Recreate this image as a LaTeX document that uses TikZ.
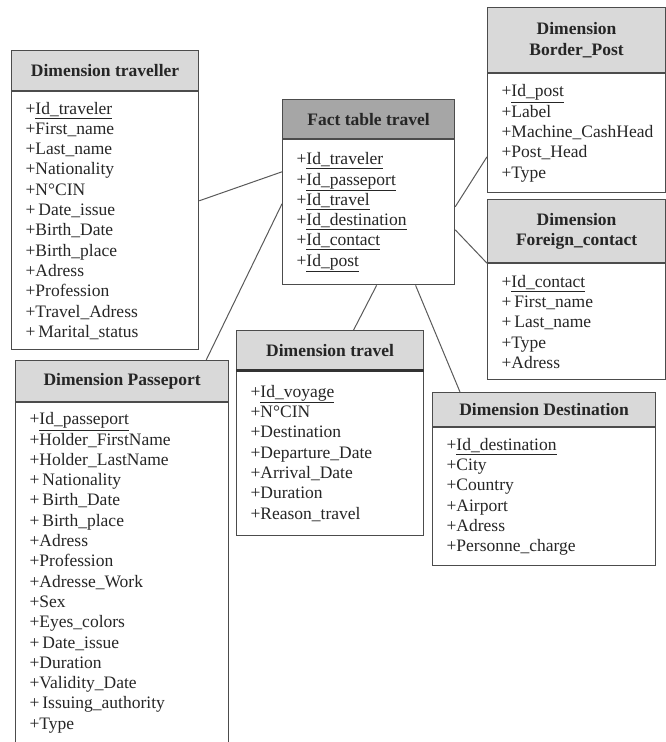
\documentclass[tikz,border=0pt]{standalone}
\usepackage{fontspec}
\setmainfont{Liberation Serif}[BoldFont={Liberation Serif Bold}]
\usepackage{tikz}
\usetikzlibrary{positioning}

\begin{document}
\begin{tikzpicture}[x=1pt,y=-1pt,
        hd/.style={draw=black!70, line width=1.2pt, fill=black!15, text=black!85, anchor=north west,
                inner sep=0pt, align=center, font=\fontsize{17.5}{20.3}\selectfont\bfseries},
        bd/.style={draw=black!70, line width=1.2pt, fill=white, text=black!85, inner xsep=14pt,
                inner ysep=3pt, align=left, font=\fontsize{17.5}{20.3}\selectfont},
        ln/.style={draw=black!65, line width=1pt}]
        \useasboundingbox (0,0) rectangle (666,742);
        \node(1)[hd, fill=black!35, minimum width=172pt, minimum height=39pt] at (282,99) {Fact table travel};
        \node(2)[bd, below=0pt of 1, text width=144pt, minimum height=145pt] {+\underline{Id\_traveler}\\+\underline{Id\_passeport}\\+\underline{Id\_travel}\\+\underline{Id\_destination}\\+\underline{Id\_contact}\\+\underline{Id\_post}};
        \node(3)[hd, minimum width=187pt, minimum height=40pt] at (11,50) {Dimension traveller};
        \node(4)[bd, below=0pt of 3, text width=159pt, minimum height=258pt] {+\underline{Id\_traveler}\\+First\_name\\+Last\_name\\+Nationality\\+N°CIN\\+\,Date\_issue\\+Birth\_Date\\+Birth\_place\\+Adress\\+Profession\\+Travel\_Adress\\+\,Marital\_status};
        \node(5)[hd, minimum width=178pt, minimum height=65pt] at (487,7) {Dimension\\Border\_Post};
        \node(6)[bd, below=0pt of 5, text width=150pt, minimum height=119pt] {+\underline{Id\_post}\\+Label\\+Machine\_CashHead\\+Post\_Head\\+Type};
        \node(7)[hd, minimum width=178pt, minimum height=63pt] at (487,199) {Dimension\\Foreign\_contact};
        \node(8)[bd, below=0pt of 7, text width=150pt, minimum height=116pt] {+\underline{Id\_contact}\\+\,First\_name\\+\,Last\_name\\+Type\\+Adress};
        \node(9)[hd, minimum width=213pt, minimum height=41pt] at (15,360) {Dimension Passeport};
        \node(10)[bd, below=0pt of 9, text width=185pt, minimum height=340pt] {+\underline{Id\_passeport}\\+Holder\_FirstName\\+Holder\_LastName\\+\,Nationality\\+\,Birth\_Date\\+\,Birth\_place\\+Adress\\+Profession\\+Adresse\_Work\\+Sex\\+Eyes\_colors\\+\,Date\_issue\\+Duration\\+Validity\_Date\\+\,Issuing\_authority\\+Type};
        \node(11)[hd, minimum width=187pt, minimum height=39pt] at (236,330) {Dimension travel};
        \node(12)[bd, below=0pt of 11, text width=159pt, minimum height=165pt] {+\underline{Id\_voyage}\\+N°CIN\\+Destination\\+Departure\_Date\\+Arrival\_Date\\+Duration\\+Reason\_travel};
        \node(13)[hd, minimum width=223pt, minimum height=34pt] at (432,392) {Dimension Destination};
        \node(14)[bd, below=0pt of 13, text width=195pt, minimum height=138pt] {+\underline{Id\_destination}\\+City\\+Country\\+Airport\\+Adress\\+Personne\_charge};

        \draw[black!80, line width=3pt] (11.south west) -- (11.south east);
        \draw[ln] ([yshift=20pt]4.east) -- ([yshift=40.5pt]2.west);
        \draw[ln] ([xshift=-23pt]9.north east) -- ([yshift=8.5pt]2.west);
        \draw[ln] ([xshift=8pt]2.south) -- ([xshift=23.5pt]11.north);
        \draw[ln] ([xshift=47pt]2.south) -- ([xshift=28pt]13.north west);
        \draw[ln] ([yshift=5.5pt]2.east) -- ([yshift=-23.5pt]6.west);
        \draw[ln] ([yshift=-17.5pt]2.east) -- (7.south west);
    \end{tikzpicture}
\end{document}
